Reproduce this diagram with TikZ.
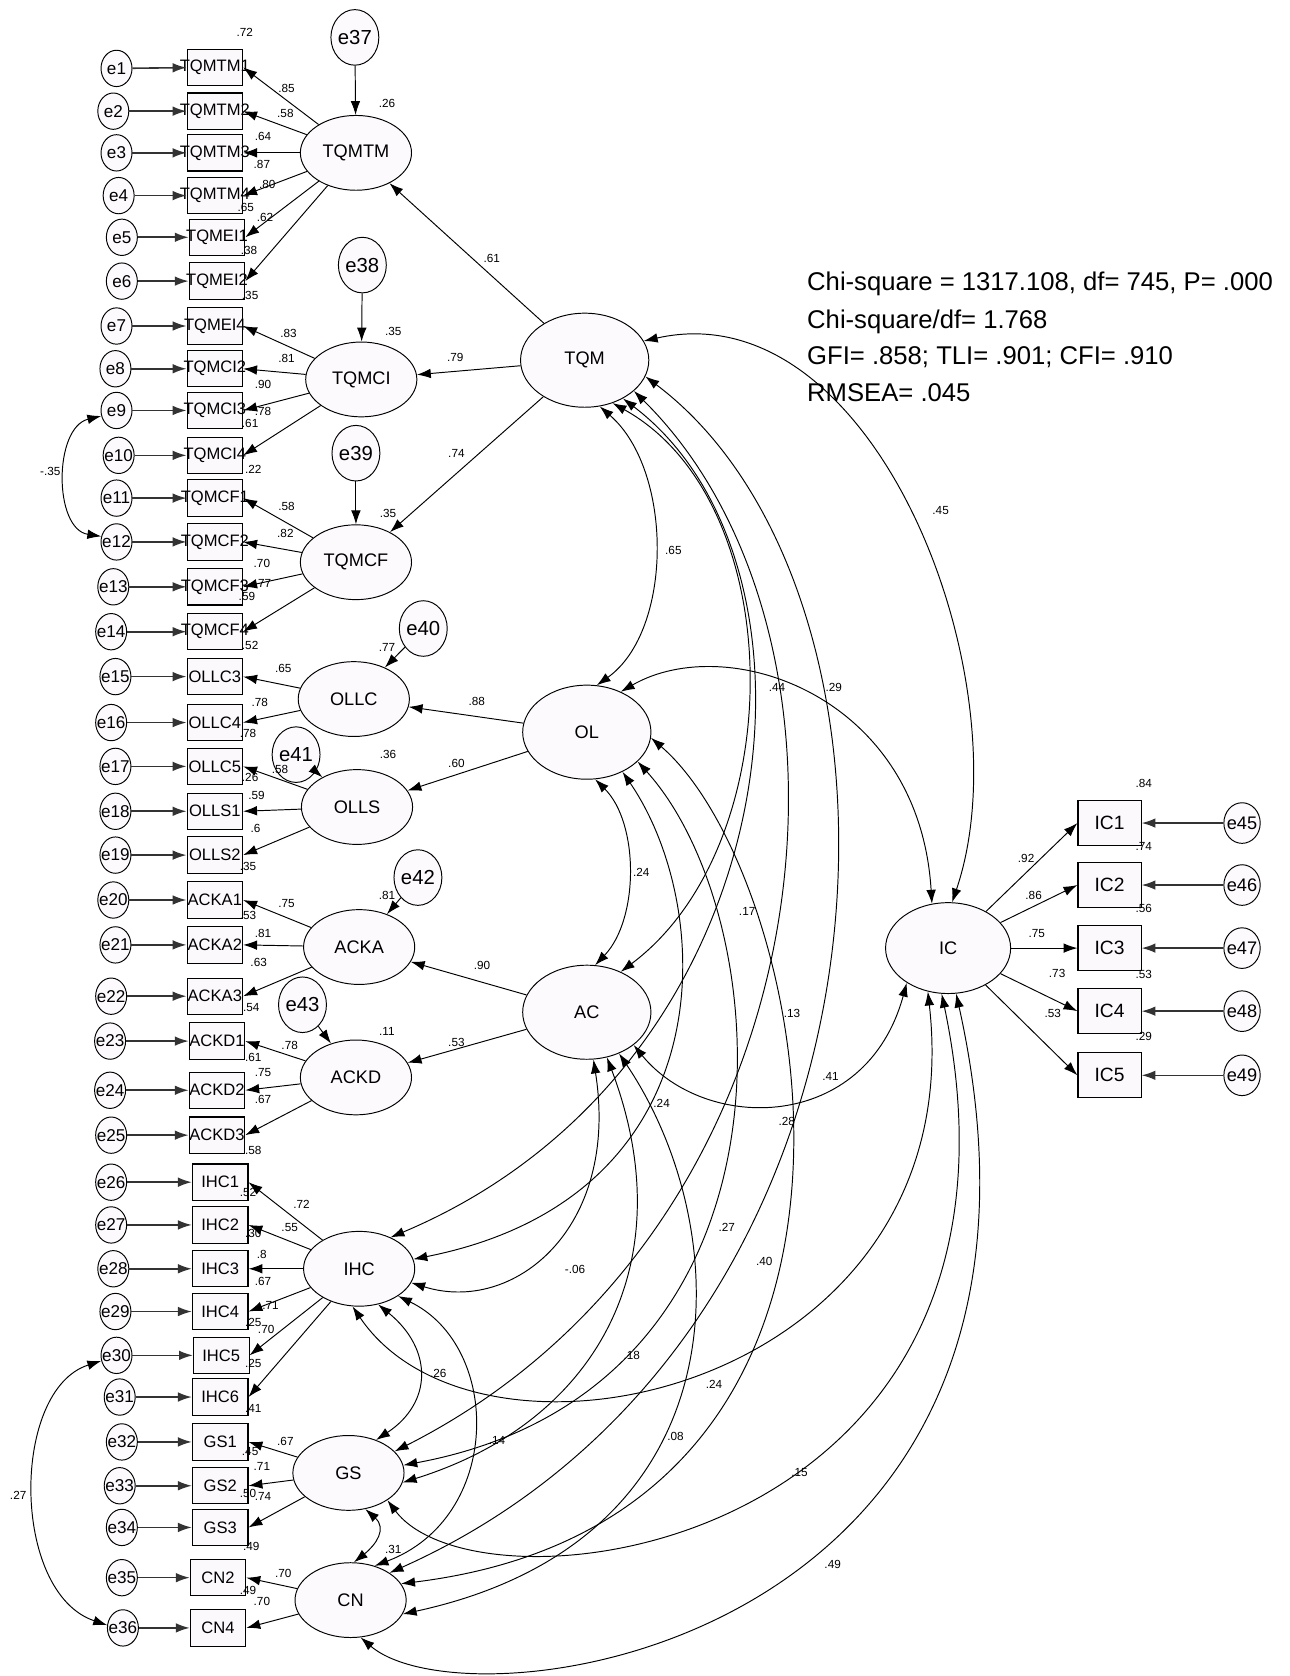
\documentclass[tikz,border=0pt]{standalone}
\usepackage{fontspec}
\setmainfont{Liberation Sans}
\usetikzlibrary{arrows.meta,shapes.geometric}
\definecolor{latfill}{RGB}{253,250,254}
\definecolor{obsfill}{RGB}{252,249,253}
\begin{document}
\begin{tikzpicture}[x=1pt,y=-1pt,
  >={Latex[length=13pt,width=9pt]},
  every node/.style={inner sep=0pt},
  lat/.style={ellipse,draw,fill=latfill,line width=0.9pt,minimum width=104pt,minimum height=70pt,font=\fontsize{17}{17}\selectfont},
  biglat/.style={lat,minimum width=120pt,minimum height=88pt},
  obs/.style={draw,fill=obsfill,line width=1pt,minimum width=52pt,minimum height=34pt,font=\fontsize{15.5}{15.5}\selectfont},
  err/.style={ellipse,draw,fill=latfill,line width=0.9pt,minimum width=29pt,minimum height=34pt,font=\fontsize{16}{16}\selectfont},
  res/.style={ellipse,draw,fill=latfill,line width=0.9pt,minimum width=44pt,minimum height=52pt,font=\fontsize{19}{19}\selectfont},
  eline/.style={->,line width=1.5pt,draw=black!80},
  reg/.style={->,line width=0.9pt},
  cov/.style={<->,line width=0.9pt},
  lbl/.style={font=\fontsize{11}{11}\selectfont},
  fit/.style={anchor=west,font=\fontsize{24}{24}\selectfont},
]
\useasboundingbox (0,0) rectangle (1206,1568);

% ---------- observed indicators (left column) ----------
\foreach \nm/\x/\y/\t in {
  b1/201/63/TQMTM1, b2/201/104/TQMTM2, b3/201/143/TQMTM3, b4/201/183/TQMTM4,
  b5/203/222/TQMEI1, b6/203/263/TQMEI2, b7/201/305/TQMEI4, b8/201/345/TQMCI2,
  b9/201/384/TQMCI3, b10/201/426/TQMCI4, b11/201/466/TQMCF1, b12/201/507/TQMCF2,
  b13/201/549/TQMCF3, b14/201/591/TQMCF4, b15/201/633/OLLC3, b16/201/676/OLLC4,
  b17/201/717/OLLC5, b18/201/759/OLLS1, b19/201/800/OLLS2, b20/201/842/ACKA1,
  b21/201/884/ACKA2, b22/201/932/ACKA3, b23/203/974/ACKD1, b24/203/1020/ACKD2,
  b25/203/1062/ACKD3, b26/206/1106/IHC1, b27/206/1146/IHC2, b28/206/1187/IHC3,
  b29/206/1227/IHC4, b30/207/1268/IHC5, b31/206/1307/IHC6, b32/206/1349/GS1,
  b33/206/1390/GS2, b34/206/1429/GS3, b35/204/1476/CN2, b36/204/1523/CN4}
  \node[obs] (\nm) at (\x,\y) {\makebox[0pt]{\t}};

% ---------- measurement errors ----------
\foreach \i/\x/\y in {
  1/109/64, 2/106/104, 3/109/143, 4/111/183, 5/114/222, 6/114/263, 7/109/305,
  8/108/345, 9/109/384, 10/111/426, 11/109/466, 12/109/507, 13/106/549,
  14/104/591, 15/108/633, 16/104/676, 17/108/717, 18/108/759, 19/108/800,
  20/106/842, 21/108/884, 22/104/932, 23/103/974, 24/103/1020, 25/104/1062,
  26/104/1106, 27/104/1146, 28/106/1187, 29/108/1227, 30/109/1268, 31/112/1307,
  32/114/1349, 33/112/1390, 34/114/1429, 35/114/1476, 36/115/1523}
  {\node[err] (e\i) at (\x,\y) {\makebox[0pt]{e\i}};
   \draw[eline] (e\i) -- (b\i);}

% ---------- latent variables ----------
\node[lat] (TQMTM) at (333,143) {TQMTM};
\node[lat] (TQMCI) at (338,355) {TQMCI};
\node[lat] (TQMCF) at (333,526) {TQMCF};
\node[lat] (OLLC) at (331,654) {OLLC};
\node[lat] (OLLS) at (334,755) {OLLS};
\node[lat] (ACKA) at (336,886) {ACKA};
\node[lat] (ACKD) at (333,1008) {ACKD};
\node[lat] (IHC) at (336,1187) {IHC};
\node[lat] (GS) at (326,1378) {GS};
\node[lat] (CN) at (328,1497) {CN};
\node[biglat] (TQM) at (547,337) {TQM};
\node[biglat] (OL) at (549,685) {OL};
\node[biglat] (AC) at (549,947) {AC};
\node[biglat,minimum width=117pt,minimum height=85pt] (IC) at (887,887) {IC};

% ---------- disturbances ----------
\node[res] (e37) at (332,35) {e37};
\node[res] (e38) at (339,248) {e38};
\node[res] (e39) at (333,424) {e39};
\node[res] (e40) at (396,588) {e40};
\node[res] (e41) at (277,706) {e41};
\node[res] (e42) at (391,821) {e42};
\node[res] (e43) at (283,940) {e43};
\draw[reg] (e37) -- (TQMTM);
\draw[reg] (e38) -- (TQMCI);
\draw[reg] (e39) -- (TQMCF);
\draw[reg] (e40) -- (OLLC);
\draw[reg] (e41) -- (OLLS);
\draw[reg] (e42) -- (ACKA);
\draw[reg] (e43) -- (ACKD);

% ---------- loadings ----------
\foreach \k in {1,...,6} \draw[reg] (TQMTM) -- (b\k.east);
\foreach \k in {7,...,10} \draw[reg] (TQMCI) -- (b\k.east);
\foreach \k in {11,...,14} \draw[reg] (TQMCF) -- (b\k.east);
\foreach \k in {15,16} \draw[reg] (OLLC) -- (b\k.east);
\foreach \k in {17,18,19} \draw[reg] (OLLS) -- (b\k.east);
\foreach \k in {20,21,22} \draw[reg] (ACKA) -- (b\k.east);
\foreach \k in {23,24,25} \draw[reg] (ACKD) -- (b\k.east);
\foreach \k in {26,...,31} \draw[reg] (IHC) -- (b\k.east);
\foreach \k in {32,33,34} \draw[reg] (GS) -- (b\k.east);
\foreach \k in {35,36} \draw[reg] (CN) -- (b\k.east);

% ---------- second-order paths ----------
\draw[reg] (TQM) -- (TQMTM);
\draw[reg] (TQM) -- (TQMCI);
\draw[reg] (TQM) -- (TQMCF);
\draw[reg] (OL) -- (OLLC);
\draw[reg] (OL) -- (OLLS);
\draw[reg] (AC) -- (ACKA);
\draw[reg] (AC) -- (ACKD);

% ---------- IC block ----------
\foreach \k/\y in {1/770,2/828,3/887,4/946,5/1006}
  {\node[obs,minimum width=59pt,minimum height=42pt,font=\fontsize{18}{18}\selectfont] (ic\k) at (1038,\y) {IC\k};
   \draw[reg] (IC) -- (ic\k.west);}
\foreach \i/\y in {45/770,46/828,47/887,48/946,49/1006}
  \node[err,minimum width=34pt,minimum height=38pt,font=\fontsize{17}{17}\selectfont] (e\i) at (1162,\y) {\makebox[0pt]{e\i}};
\draw[eline] (e45) -- (ic1);
\draw[eline] (e46) -- (ic2);
\draw[eline] (e47) -- (ic3);
\draw[eline] (e48) -- (ic4);
\draw[eline] (e49) -- (ic5);

% ---------- covariances ----------
\draw[cov] (TQM.-72) .. controls (630,440) and (630,590) .. (OL.78);
\draw[cov] (OL.-80) .. controls (598,770) and (598,860) .. (AC.80);
\draw[cov] (TQM.18) .. controls (820,270) and (960,640) .. (IC.85);
\draw[cov] (OL.50) .. controls (680,590) and (860,650) .. (IC.110);
\draw[cov] (AC.-35) .. controls (660,1060) and (810,1060) .. (IC.-140);
\draw[cov] (TQM.-57) .. controls (740,470) and (740,790) .. (AC.50);
\draw[cov] (TQM.-45) .. controls (790,530) and (740,1000) .. (IHC.45);
\draw[cov] (TQM.-32) .. controls (830,600) and (780,1150) .. (GS.25);
\draw[cov] (TQM.-15) .. controls (880,560) and (860,1250) .. (CN.35);
\draw[cov] (OL.-48) .. controls (670,850) and (680,1120) .. (IHC.10);
\draw[cov] (OL.-30) .. controls (730,860) and (760,1300) .. (GS.8);
\draw[cov] (OL.-5) .. controls (760,820) and (880,1420) .. (CN.18);
\draw[cov] (AC.-82) .. controls (580,1150) and (480,1230) .. (IHC.-15);
\draw[cov] (AC.-66) .. controls (640,1180) and (560,1330) .. (GS.-10);
\draw[cov] (AC.-52) .. controls (690,1150) and (700,1440) .. (CN.-15);
\draw[cov] (IHC.-100) .. controls (450,1400) and (910,1300) .. (IC.-115);
\draw[cov] (GS.-35) .. controls (450,1520) and (990,1450) .. (IC.-98);
\draw[cov] (CN.-75) .. controls (440,1620) and (1030,1540) .. (IC.-80);
\draw[cov] (IHC.-62) .. controls (405,1262) and (405,1312) .. (GS.50);
\draw[cov] (IHC.-35) .. controls (470,1260) and (470,1420) .. (CN.55);
\draw[cov] (GS.-65) .. controls (362,1430) and (352,1445) .. (CN.85);
\draw[cov] (e9.200) .. controls (50,400) and (50,495) .. (e12.160);
\draw[cov] (e30.200) .. controls (10,1300) and (10,1490) .. (e36.170);

% ---------- estimates ----------
\foreach \t/\x/\y [count=\n] in {
  .61/460/242, .79/426/334, .74/427/424, .88/446/656, .60/427/714, .90/451/903, .53/427/975,
  .65/630/515, .24/600/816, .45/880/478, .44/727/643, .29/780/643, .17/699/853,
  .13/741/948, .24/619/1032, .41/777/1007, .28/736/1049, -.06/538/1188, .27/680/1148,
  .40/715/1180, .18/591/1268, .24/668/1295, .08/632/1344, .14/465/1348, .15/748/1378,
  .49/779/1464, .26/410/1285, .31/368/1450, -.35/47/441, .27/17/1399,
  .26/362/97, .35/368/310, .35/363/480, .77/362/606, .36/363/706, .81/362/838, .11/362/965,
  .84/1070/733, .74/1070/792, .56/1070/850, .53/1070/912, .29/1070/970,
  .92/960/803, .86/967/838, .75/970/873, .73/989/911, .53/985/948,
  .72/229/30, .85/268/83, .58/267/106, .64/246/128, .87/245/154, .80/250/173, .62/248/203,
  .65/230/194, .38/233/234, .35/234/276,
  .83/270/312, .81/268/335, .90/246/360, .78/246/385, .61/234/396, .22/237/439,
  .58/268/474, .82/267/499, .70/245/527, .77/246/546, .59/231/558, .52/234/604,
  .65/265/625, .78/243/657, .78/232/686,
  .58/262/720, .59/240/744, .6/239/775, .35/232/811, .26/234/727,
  .75/268/845, .81/246/873, .53/232/856, .63/242/900, .54/235/943,
  .78/271/978, .75/246/1003, .67/246/1029, .61/237/989, .58/237/1076,
  .72/282/1127, .55/271/1148, .8/245/1174, .67/246/1199, .71/253/1221, .70/249/1244,
  .52/232/1116, .30/237/1154, .25/237/1237, .25/237/1276, .41/237/1318,
  .67/267/1349, .71/245/1372, .74/246/1400, .45/234/1358, .50/232/1397, .49/235/1447,
  .70/265/1472, .70/245/1498, .49/232/1488}
  \node[lbl] (est\n) at (\x,\y) {\t};

% ---------- fit indices ----------
\node[fit] (fit1) at (755,266) {Chi-square = 1317.108, df= 745, P= .000};
\node[fit] (fit2) at (755,301) {Chi-square/df= 1.768};
\node[fit] (fit3) at (755,334) {GFI= .858; TLI= .901; CFI= .910};
\node[fit] (fit4) at (755,367) {RMSEA= .045};
\end{tikzpicture}
\end{document}
